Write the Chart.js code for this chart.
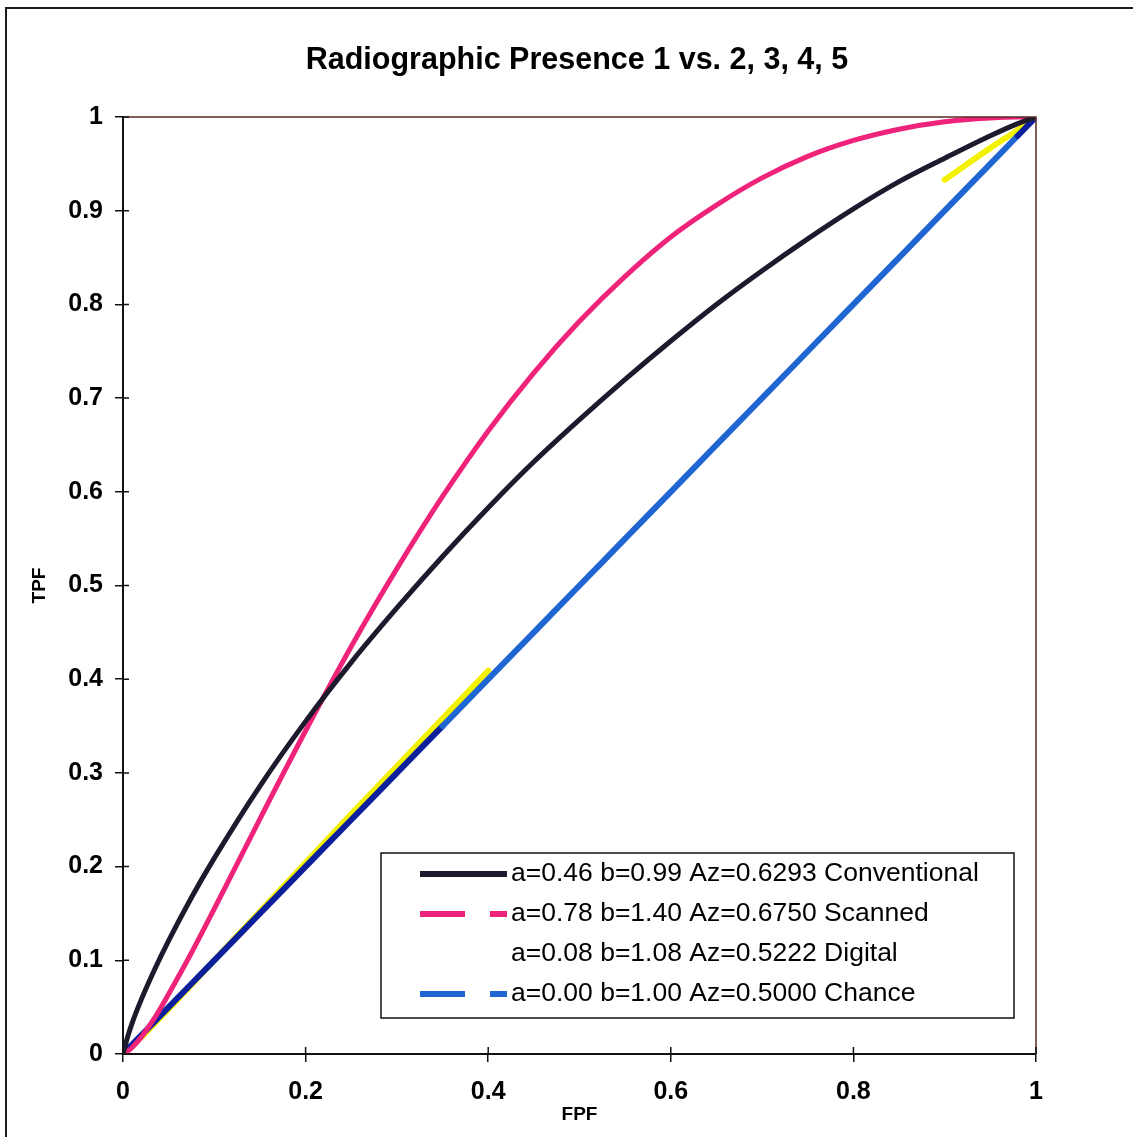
<!DOCTYPE html>
<html>
<head>
<meta charset="utf-8">
<script src="https://cdn.jsdelivr.net/npm/chart.js@4/dist/chart.umd.min.js"></script>
<style>
  body { margin: 0; background: #fff; }
  canvas { display: block; }
</style>
</head>
<body>
<canvas id="roc-chart" width="1133" height="1137"></canvas>
<script>
// values
const chartTitle = 'Radiographic Presence 1 vs. 2, 3, 4, 5';
const fpf = [0, 0.005, 0.01, 0.02, 0.035, 0.05, 0.075, 0.1, 0.15, 0.2, 0.25, 0.3, 0.35, 0.4, 0.45, 0.5, 0.55, 0.6, 0.65, 0.7, 0.75, 0.8, 0.85, 0.9, 0.95, 0.98, 1];
const conventional = [0, 0.018, 0.033, 0.058, 0.091, 0.121, 0.167, 0.209, 0.286, 0.355, 0.418, 0.476, 0.531, 0.583, 0.632, 0.677, 0.720, 0.761, 0.800, 0.836, 0.870, 0.902, 0.931, 0.956, 0.980, 0.993, 1];
const scanned = [0, 0.003, 0.007, 0.018, 0.039, 0.064, 0.108, 0.155, 0.251, 0.345, 0.435, 0.518, 0.595, 0.665, 0.727, 0.782, 0.830, 0.872, 0.906, 0.935, 0.958, 0.975, 0.987, 0.995, 0.999, 1, 1];
const digital = [0, 0.004, 0.009, 0.018, 0.033, 0.048, 0.074, 0.1, 0.152, 0.204, 0.256, 0.307, 0.358, 0.409, null, null, null, null, null, null, null, null, null, 0.933, 0.967, 0.986, 1];
const chance = [0, 0.005, 0.01, 0.02, 0.035, 0.05, 0.075, 0.1, 0.15, 0.2, 0.25, 0.3, 0.35, 0.4, 0.45, 0.5, 0.55, 0.6, 0.65, 0.7, 0.75, 0.8, 0.85, 0.9, 0.95, 0.98, 1];
const seriesLabels = [
    'a=0.46 b=0.99 Az=0.6293 Conventional',
    'a=0.78 b=1.40 Az=0.6750 Scanned',
    'a=0.08 b=1.08 Az=0.5222 Digital',
    'a=0.00 b=1.00 Az=0.5000 Chance'
];
const xTicks = ['0', '0.2', '0.4', '0.6', '0.8', '1'];
const yTicks = ['0', '0.1', '0.2', '0.3', '0.4', '0.5', '0.6', '0.7', '0.8', '0.9', '1'];

const navy = '#0c1f9c';
const blue = '#1f66d2';

const toPoints = arr => fpf.map((x, i) => ({ x: x, y: arr[i] }));

// title, frame, crossing ticks and the boxed legend
const decor = {
    id: 'decor',
    afterDraw(chart) {
        const ctx = chart.ctx;
        const a = chart.chartArea;
        const xs = chart.scales.x, ys = chart.scales.y;
        ctx.save();
        // outer frame
        ctx.strokeStyle = '#1a1a1a';
        ctx.lineWidth = 2;
        ctx.strokeRect(6, 8, 1200, 1200);
        // plot frame top / right
        ctx.strokeStyle = '#5a2a22';
        ctx.lineWidth = 1.5;
        ctx.beginPath();
        ctx.moveTo(a.left, a.top);
        ctx.lineTo(a.right, a.top);
        ctx.lineTo(a.right, a.bottom);
        ctx.stroke();
        // inner half of the ticks
        ctx.strokeStyle = '#111';
        ctx.beginPath();
        xs.ticks.forEach(t => {
            const px = xs.getPixelForValue(t.value);
            ctx.moveTo(px, a.bottom);
            ctx.lineTo(px, a.bottom - 7);
        });
        ys.ticks.forEach(t => {
            const py = ys.getPixelForValue(t.value);
            ctx.moveTo(a.left, py);
            ctx.lineTo(a.left + 6, py);
        });
        ctx.stroke();
        // title
        ctx.fillStyle = '#000';
        ctx.font = 'bold 30.5px "Liberation Sans", Arial, sans-serif';
        ctx.textAlign = 'center';
        ctx.textBaseline = 'middle';
        ctx.fillText(chartTitle, 577, 61);
        // legend
        ctx.strokeStyle = '#111';
        ctx.lineWidth = 1.5;
        ctx.strokeRect(381, 853, 633, 165);
        ctx.font = '26.5px "Liberation Sans", Arial, sans-serif';
        ctx.textAlign = 'left';
        chart.data.datasets.forEach((ds, i) => {
            const y = 874 + 40 * i;
            if (ds.legendColor) {
                ctx.strokeStyle = ds.legendColor;
                ctx.lineWidth = 6;
                ctx.setLineDash(ds.legendDash);
                ctx.beginPath();
                ctx.moveTo(420, y);
                ctx.lineTo(507, y);
                ctx.stroke();
                ctx.setLineDash([]);
            }
            ctx.fillStyle = '#000';
            ctx.fillText(ds.label, 511, y);
        });
        ctx.restore();
    }
};

const canvas = document.querySelector('#roc-chart');

const roc_chart = new Chart(canvas, {
    type: 'line',
    data: {
        datasets: [
            {
                label: seriesLabels[0],
                data: toPoints(conventional),
                borderColor: '#1c1a2c',
                borderWidth: 5,
                legendColor: '#1c1a2c',
                legendDash: [],
                order: 1,
            },
            {
                label: seriesLabels[1],
                data: toPoints(scanned),
                borderColor: '#ef2379',
                borderWidth: 5,
                legendColor: '#ef2379',
                legendDash: [45, 25],
                order: 2,
            },
            {
                label: seriesLabels[2],
                data: toPoints(digital),
                borderColor: '#f2f200',
                borderWidth: 6,
                legendColor: null,
                order: 4,
            },
            {
                label: seriesLabels[3],
                data: toPoints(chance),
                borderColor: blue,
                borderWidth: 6,
                legendColor: blue,
                legendDash: [45, 25],
                segment: {
                    borderColor: c => (c.p0.parsed.x < 0.35 || c.p0.parsed.x >= 0.98) ? navy : blue,
                },
                order: 3,
            }
        ]
    },
    options: {
        responsive: false,
        animation: false,
        spanGaps: false,
        cubicInterpolationMode: 'monotone',
        elements: {
            point: { radius: 0 },
            line: { borderCapStyle: 'round', borderJoinStyle: 'round' }
        },
        layout: {
            padding: { left: 28, top: 117, right: 97, bottom: 0 }
        },
        plugins: {
            legend: { display: false },
            tooltip: { enabled: false }
        },
        scales: {
            x: {
                type: 'linear',
                min: 0,
                max: 1,
                afterFit: s => { s.height = 83; },
                ticks: {
                    stepSize: 0.2,
                    color: '#000',
                    padding: 15,
                    maxRotation: 0,
                    font: { family: '"Liberation Sans", Arial, sans-serif', size: 25, weight: 'bold' },
                    callback: (v, i) => xTicks[i],
                },
                grid: {
                    drawOnChartArea: false,
                    tickLength: 8,
                    color: '#111',
                    lineWidth: 1.5,
                },
                border: { color: '#111', width: 2 },
                title: {
                    display: true,
                    text: 'FPF',
                    color: '#000',
                    padding: { top: 11, bottom: 11 },
                    font: { family: '"Liberation Sans", Arial, sans-serif', size: 19, weight: 'bold' },
                }
            },
            y: {
                type: 'linear',
                min: 0,
                max: 1,
                afterFit: s => { s.width = 95; },
                ticks: {
                    stepSize: 0.1,
                    color: '#000',
                    padding: 12,
                    font: { family: '"Liberation Sans", Arial, sans-serif', size: 25, weight: 'bold' },
                    callback: (v, i) => yTicks[i],
                },
                grid: {
                    drawOnChartArea: false,
                    tickLength: 8,
                    color: '#111',
                    lineWidth: 1.5,
                },
                border: { color: '#111', width: 2 },
                title: {
                    display: true,
                    text: 'TPF',
                    color: '#000',
                    padding: { top: 0, bottom: 0 },
                    font: { family: '"Liberation Sans", Arial, sans-serif', size: 19, weight: 'bold' },
                }
            }
        }
    },
    plugins: [decor]
});
</script>
</body>
</html>
